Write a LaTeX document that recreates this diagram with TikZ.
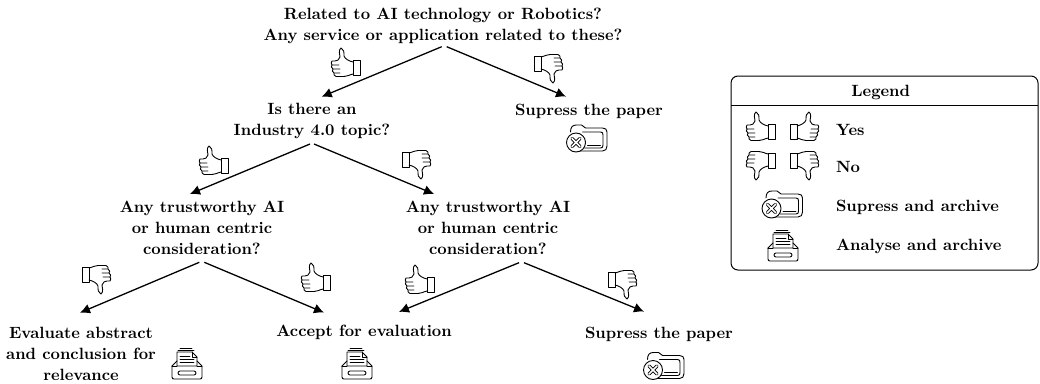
\documentclass[tikz,border=0pt]{standalone}
\usetikzlibrary{arrows.meta,calc}
\tikzset{
  txt/.style={font=\fontsize{10}{12.9}\selectfont\bfseries,align=center,inner sep=0pt,scale=1.63,transform shape},
  conn/.style={line width=1.3pt,-{Latex[length=10pt,width=10pt]}},
  icon/.style={line width=0.9pt,line join=round,line cap=round},
  pics/thumb/.style={code={
    \draw[icon] (7,-8) rectangle (14,7);
    \draw[icon] (7,-6) .. controls (3,-7) and (-1,-9) .. (-2,-12)
      .. controls (-2,-16) and (-2,-19) .. (-5,-20)
      .. controls (-8,-18) and (-6,-13) .. (-6,-11)
      .. controls (-7,-8) and (-9,-7) .. (-11,-7) -- (-14,-7)
      .. controls (-15,-6) and (-15,-4) .. (-14,-3) -- (-7,-3)
      (-14,-3) .. controls (-15,-2) and (-15,0) .. (-13,1) -- (-6,1)
      (-13,1) .. controls (-14,2) and (-14,4) .. (-12,5) -- (-6,5)
      (-12,5) .. controls (-12.5,6) and (-12,8) .. (-10,8.5) -- (-2,8.5)
      .. controls (1,8.5) and (3,7) .. (7,6);
  }},
  pics/supress/.style={code={
    \draw[icon] (-17,-6) .. controls (-17,-11) and (-15,-13) .. (-11,-13) -- (-6,-13) -- (-2,-10) -- (15,-10)
      .. controls (18,-10) and (19.5,-8.5) .. (19.5,-6) -- (19.5,8) .. controls (19.5,11) and (18,13) .. (15,13) -- (-8,13);
    \draw[icon] (0,7) -- (13,7);
    \draw[icon] (-5,-6) -- (13,-6) .. controls (15,-6) and (15.5,-5) .. (15.5,-3) -- (15.5,7) .. controls (15.5,9) and (15,10) .. (13,10) -- (-3,10);
    \draw[icon,fill=white] (-11.5,4.5) circle (9.5);
    \draw[line width=3.4pt,line cap=round] (-15.5,0.5) -- (-7.5,8.5) (-15.5,8.5) -- (-7.5,0.5);
    \draw[white,line width=1.6pt,line cap=round] (-15.5,0.5) -- (-7.5,8.5) (-15.5,8.5) -- (-7.5,0.5);
  }},
  pics/analyse/.style={code={
    \draw[icon] (-15,3) -- (-15,14) .. controls (-15,15.5) and (-14,16) .. (-13,16) -- (13,16) .. controls (14,16) and (15,15.5) .. (15,14) -- (15,3) -- (10,-2);
    \draw[icon] (-15,3) -- (-10,-2);
    \draw[icon] (-15,3) -- (-10,3) (10,3) -- (15,3);
    \draw[icon,rounded corners=2pt] (-9,8) rectangle (9,12);
    \draw[icon] (-10,3) -- (-10,-11) -- (5,-11) -- (10,-6) -- (10,3) -- cycle;
    \draw[icon] (-7,-15) -- (5,-15) (-9,-13) -- (7,-13);
    \draw[icon] (5,-11) -- (5,-6) -- (10,-6);
    \draw[icon,line width=.7pt] (-7,-7) -- (3,-7) (-7,-4) -- (7,-4) (-7,-1) -- (7,-1);
  }}
}
\begin{document}
\begin{tikzpicture}[x=1pt,y=-1pt]
\useasboundingbox (0,0) rectangle (1040,383);
\node[txt] (q1) at (443,25.5) {Related to AI technology or Robotics?\\Any service or application related to these?};
\node[txt] (q2) at (312,121) {Is there an\\Industry 4.0 topic?};
\node[txt,anchor=base] (s1) at (589,115) {Supress the paper};
\node[txt] (q3) at (202,228) {Any trustworthy AI\\or human centric\\consideration?};
\node[txt] (q4) at (488,228) {Any trustworthy AI\\or human centric\\consideration?};
\node[txt] (e1) at (81,353.5) {Evaluate abstract\\and conclusion for\\relevance};
\node[txt,anchor=base] (a1) at (364,336.7) {Accept for evaluation};
\node[txt,anchor=base] (s2) at (659,338) {Supress the paper};

\draw[conn] ($(q1)+(-1.3,21.2)$) -- ($(q2)+(9.7,-24.3)$);
\draw[conn] ($(q1)+(3.7,21.2)$) -- ($(s1)+(-23,-14.3)$);
\draw[conn] ($(q2)+(-2,23)$) -- ($(q3)+(-12,-34)$);
\draw[conn] ($(q2)+(2,23)$) -- ($(q4)+(-54,-34)$);
\draw[conn] ($(q3)+(-2.7,34.3)$) -- ($(e1)+(-1,-40.8)$);
\draw[conn] ($(q3)+(2.3,34.3)$) -- ($(a1)+(-40,-20)$);
\draw[conn] ($(q4)+(31,34.7)$) -- ($(a1)+(35,-20.7)$);
\draw[conn] ($(q4)+(36,34.7)$) -- ($(s2)+(-15,-22.3)$);

\pic at (346,68) {thumb};
\pic at (548,63) [xscale=-1,yscale=-1] {thumb};
\pic at (214,166) {thumb};
\pic at (416,159) [xscale=-1,yscale=-1] {thumb};
\pic at (96,274) [xscale=-1,yscale=-1] {thumb};
\pic at (316,283) {thumb};
\pic at (420,285) {thumb};
\pic at (622,279) [xscale=-1,yscale=-1] {thumb};

\pic at (587.5,138) {supress};
\pic at (664.5,365.5) {supress};
\pic at (187,363) {analyse};
\pic at (357,363) {analyse};

% legend
\draw[line width=1pt,rounded corners=7pt] (731,76) rectangle (1038,270);
\coordinate (dl) at (731,105);
\coordinate (dr) at (1038,105);
\draw[line width=1pt] (dl) -- (dr);
\node[txt,anchor=base] (lt) at (880.7,96.7) {Legend};
\pic at (761,132) {thumb};
\pic at (804,132) [xscale=-1] {thumb};
\pic at (761,160) [yscale=-1] {thumb};
\pic at (804,160) [xscale=-1,yscale=-1] {thumb};
\pic at (783,204) {supress};
\pic at (783,245) {analyse};
\node[txt,anchor=base west] (l1) at (835.7,135.7) {Yes};
\node[txt,anchor=base west] (l2) at (835.7,172) {No};
\node[txt,anchor=base west] (l3) at (835.7,211.7) {Supress and archive};
\node[txt,anchor=base west] (l4) at (835.7,250.7) {Analyse and archive};
\end{tikzpicture}
\end{document}
